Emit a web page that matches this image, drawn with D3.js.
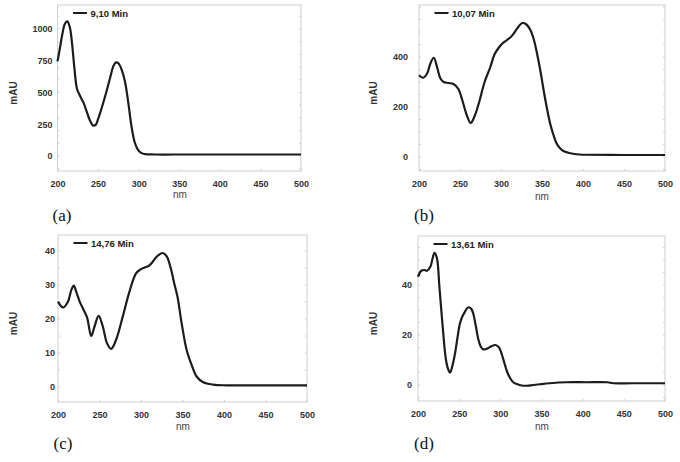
<!DOCTYPE html>
<html><head><meta charset="utf-8">
<script src="https://cdn.jsdelivr.net/npm/d3@7"></script>
<style>body{margin:0;background:#fff}svg{display:block}</style>
</head><body>
<svg id="c" width="680" height="462"></svg>
<script>
const xTicks = [200, 250, 300, 350, 400, 450, 500];

const nmA = [200,203,206,209,212,215,218,221,224,228,232,236,240,244,247,250,255,260,265,269,272,275,279,283,287,291,295,299,303,308,320,360,420,500];
const mauA = [745,850,960,1040,1060,1020,880,680,530,470,420,350,280,240,245,290,390,500,620,710,737,730,680,590,430,240,110,50,25,15,12,12,12,12];
const yTicksA = [0,250,500,750,1000];

const nmB = [200,205,210,214,218,222,226,230,236,242,248,253,258,263,268,274,280,287,292,297,302,307,312,316,321,326,331,336,340,344,348,352,356,360,364,368,372,376,382,388,396,404,450,500];
const mauB = [327,317,335,375,397,360,315,300,296,292,272,225,170,136,165,227,300,360,410,436,455,467,480,496,520,536,530,507,470,413,345,267,195,133,88,53,35,24,17,13,10,9,8,8];
const yTicksB = [0,200,400];

const nmC = [200,206,212,216,219,222,226,230,235,240,244,249,254,259,264,270,278,286,294,299,304,309,313,317,321,326,331,336,340,344,349,355,361,367,375,387,403,450,500];
const mauC = [25.1,23.4,25.1,28.5,29.8,28,25.2,23.1,20.5,15.0,17.8,20.9,17.8,12.9,11.2,13.9,20.7,28,33.4,34.5,35.1,35.6,36.5,37.8,38.8,39.4,38.4,34.8,30.5,26.5,18.7,10.9,6.5,3.1,1.4,0.7,0.5,0.5,0.5];
const yTicksC = [0,10,20,30,40];

const nmD = [200,204,208,211,215,218,220,223,226,230,234,237,239,242,245,248,251,254,257,260,262,265,267,270,273,276,279,282,285,289,294,297,299,302,305,308,312,316,320,326,332,340,348,360,380,405,430,437,460,500];
const mauD = [43.3,45.7,46,45.7,47.3,51,52.9,50.7,39.3,23.3,10,6,4.9,8,12.7,19,24.7,27.5,29.3,30.8,31.1,30.3,28.7,24,18.7,15.5,14.3,14.3,14.7,15.5,16,15.5,14.7,12,8.7,5.5,2.7,1,0.4,-0.2,-0.3,0,0.3,0.7,1.1,1.1,1.1,0.7,0.7,0.7];
const yTicksD = [0,20,40];

const legends = ["9,10 Min","10,07 Min","14,76 Min","13,61 Min"];
const tags = ["(a)","(b)","(c)","(d)"];

const panels = [
  {nm:nmA, v:mauA, yt:yTicksA, yd:[-118,1189], x0:57.5, x1:301, y0:5, y1:171, lblGap:5, mauX:13, nmX:180, nmY:198, tagX:62, tagY:215},
  {nm:nmB, v:mauB, yt:yTicksB, yd:[-56,608], x0:419, x1:665, y0:5, y1:171, lblGap:11, mauX:373, nmX:542, nmY:200, tagX:424, tagY:215},
  {nm:nmC, v:mauC, yt:yTicksC, yd:[-4.4,44.7], x0:58, x1:307, y0:235, y1:402, lblGap:3, mauX:13, nmX:183, nmY:430, tagX:63, tagY:443},
  {nm:nmD, v:mauD, yt:yTicksD, yd:[-6.4,59.6], x0:418, x1:665, y0:236, y1:401, lblGap:6, mauX:373, nmX:542, nmY:430, tagX:424, tagY:443}
];

const svg = d3.select("#c");
const F = "'Liberation Sans', Arial, sans-serif";

panels.forEach((p, i) => {
  const x = d3.scaleLinear().domain([200,500]).range([p.x0,p.x1]);
  const y = d3.scaleLinear().domain(p.yd).range([p.y1,p.y0]);
  const g = svg.append("g");

  g.append("rect").attr("x",p.x0).attr("y",p.y0).attr("width",p.x1-p.x0).attr("height",p.y1-p.y0)
    .attr("fill","none").attr("stroke","#cfcfcf").attr("stroke-width",1);

  const xa = g.append("g").attr("transform",`translate(0,${p.y1})`)
    .call(d3.axisBottom(x).tickValues(xTicks).tickSize(2).tickPadding(8).tickFormat(d3.format("d")));
  xa.select(".domain").remove();
  xa.selectAll("line").attr("stroke","#cfcfcf").attr("y2",-2);
  xa.selectAll("text").attr("font-family",F).attr("font-weight","bold").attr("font-size",9).attr("fill","#333");

  const ya = g.append("g").attr("transform",`translate(${p.x0},0)`)
    .call(d3.axisLeft(y).tickValues(p.yt).tickSize(0).tickPadding(p.lblGap).tickFormat(d3.format("d")));
  ya.select(".domain").remove();
  ya.selectAll("text").attr("font-family",F).attr("font-weight","bold").attr("font-size",9).attr("fill","#333");
  const minor = y.ticks(12);
  g.selectAll(".mt").data(minor).enter().append("line")
    .attr("x1",p.x0).attr("x2",p.x0+2).attr("y1",d=>y(d)).attr("y2",d=>y(d)).attr("stroke","#cfcfcf");
  g.selectAll(".mt2").data(minor).enter().append("line")
    .attr("x1",p.x1).attr("x2",p.x1-2).attr("y1",d=>y(d)).attr("y2",d=>y(d)).attr("stroke","#cfcfcf");

  const data = p.nm.map((n,k)=>[n,p.v[k]]);
  g.append("path").datum(data)
    .attr("d", d3.line().x(d=>x(d[0])).y(d=>y(d[1])).curve(d3.curveCatmullRom.alpha(0.5)))
    .attr("fill","none").attr("stroke","#1c1c1c").attr("stroke-width",2.2).attr("stroke-linejoin","round");

  g.append("line").attr("x1",p.x0+15.5).attr("x2",p.x0+29.5).attr("y1",p.y0+8).attr("y2",p.y0+8)
    .attr("stroke","#1c1c1c").attr("stroke-width",2);
  g.append("text").attr("x",p.x0+33).attr("y",p.y0+11.5).text(legends[i])
    .attr("font-family",F).attr("font-weight","bold").attr("font-size",9.5).attr("fill","#222");

  g.append("text").attr("x",p.nmX).attr("y",p.nmY).attr("text-anchor","middle").text("nm")
    .attr("font-family",F).attr("font-size",10).attr("fill","#444");
  const my = (p.y0+p.y1)/2 + 5;
  g.append("text").attr("transform",`translate(${p.mauX+4},${my}) rotate(-90)`).attr("text-anchor","middle").text("mAU")
    .attr("font-family",F).attr("font-weight","bold").attr("font-size",10).attr("fill","#333");

  g.append("text").attr("x",p.tagX).attr("y",p.tagY+5.5).attr("text-anchor","middle").text(tags[i])
    .attr("font-family","'Liberation Serif','Times New Roman',serif").attr("font-size",17).attr("fill","#111");
});
</script>
</body></html>
